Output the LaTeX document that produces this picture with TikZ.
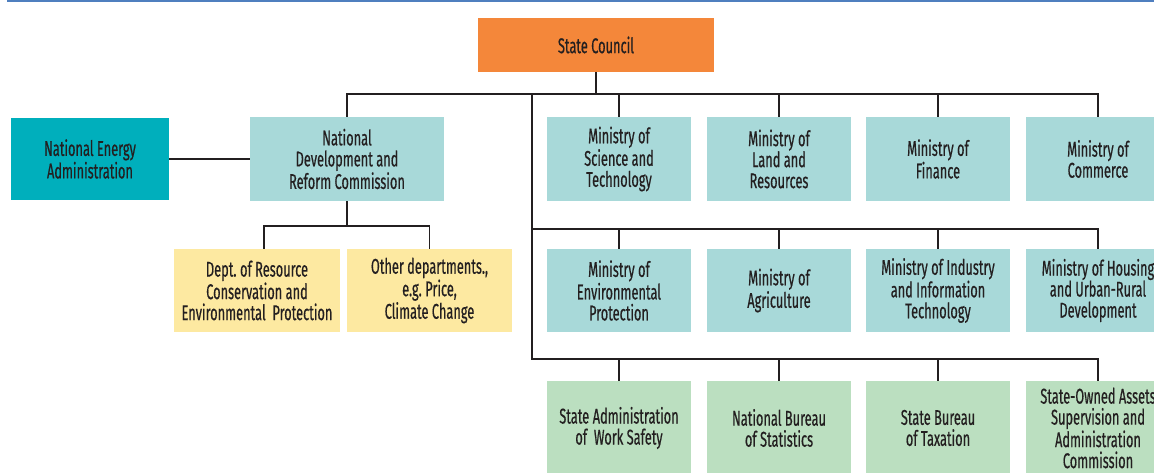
\documentclass[tikz,border=0pt]{standalone}
\usepackage{fontspec}
\setmainfont[FakeStretch=0.6,FakeBold=0.5]{Fira Sans}
\definecolor{orangeC}{HTML}{F4873A}
\definecolor{neaC}{HTML}{00AFBC}
\definecolor{tealC}{HTML}{A8D9D9}
\definecolor{yellowC}{HTML}{FDE9A1}
\definecolor{greenC}{HTML}{BBDFC0}
\definecolor{inkC}{HTML}{231F20}
\definecolor{topC}{HTML}{4F7FBF}
\newcommand{\bx}[7]{\node[#6, minimum width={(#4-#2)*0.75pt}, minimum height={(#5-#3)*0.75pt}] (#1) at ({(#2+#4)/2},{(#3+#5)/2}) {#7};}
\begin{document}
\begin{tikzpicture}[x=0.75pt,y=-0.75pt,
  box/.style={inner sep=0pt, align=center, text=inkC, font=\fontsize{16}{15.75}\selectfont},
  scbox/.style={box, fill=orangeC},
  neabox/.style={box, fill=neaC},
  minbox/.style={box, fill=tealC},
  deptbox/.style={box, fill=yellowC},
  agbox/.style={box, fill=greenC},
  link/.style={draw=inkC, line width=1.3pt}]
\clip (0,0) rectangle (1154,473);
\fill[white] (0,0) rectangle (1154,473);
\fill[topC] (7,0) rectangle (1154,2);
% boxes
\bx{sc}{478}{18}{714}{72}{scbox}{State Council}
\bx{nea}{11}{118}{169}{200}{neabox}{National Energy\\Administration}
\bx{ndrc}{250}{117}{444}{201}{minbox}{National\\Development and\\Reform Commission}
\bx{mst}{547}{117}{691}{201}{minbox}{Ministry of\\Science and\\Technology}
\bx{mlr}{707}{117}{851}{201}{minbox}{Ministry of\\Land and\\Resources}
\bx{mof}{866}{117}{1010}{201}{minbox}{Ministry of\\Finance}
\bx{moc}{1026}{117}{1170}{201}{minbox}{Ministry of\\Commerce}
\bx{dept}{174}{249}{340}{332}{deptbox}{Dept.\,of Resource\\Conservation and\\Environmental\ \ Protection}
\bx{other}{347}{249}{512}{332}{deptbox}{Other departments.,\\e.g.\,Price,\\Climate Change}
\bx{mep}{547}{249}{691}{332}{minbox}{Ministry of\\Environmental\\Protection}
\bx{moa}{707}{249}{851}{332}{minbox}{Ministry of\\Agriculture}
\bx{miit}{866}{249}{1010}{332}{minbox}{Ministry of\,Industry\\and Information\\Technology}
\bx{mohurd}{1026}{249}{1170}{332}{minbox}{Ministry of Housing\\and Urban-Rural\\Development}
\bx{saws}{547}{381}{691}{475}{agbox}{State\,Administration\\of\ \ Work Safety}
\bx{nbs}{707}{381}{851}{475}{agbox}{National Bureau\\of Statistics}
\bx{sbt}{866}{381}{1010}{475}{agbox}{State Bureau\\of Taxation}
\bx{sasac}{1026}{381}{1170}{475}{agbox}{State-Owned Assets\\Supervision and\\Administration\\Commission}
% bus coordinates
\coordinate (bus1) at (532,94);
\coordinate (bus2) at (532,229);
\coordinate (bus3) at (532,359);
\coordinate (ybus) at (347,226);
% connectors
\draw[link] (sc.south) -- (sc.south |- bus1);
\draw[link] (ndrc.north) -- (ndrc.north |- bus1) -- (moc.north |- bus1) -- (moc.north);
\draw[link] (mst.north) -- (mst.north |- bus1);
\draw[link] (mlr.north) -- (mlr.north |- bus1);
\draw[link] (mof.north) -- (mof.north |- bus1);
\draw[link] (bus1) -- (bus3) -- (sasac.north |- bus3) -- (sasac.north);
\draw[link] (bus2) -- (mohurd.north |- bus2) -- (mohurd.north);
\draw[link] (mep.north) -- (mep.north |- bus2);
\draw[link] (moa.north) -- (moa.north |- bus2);
\draw[link] (miit.north) -- (miit.north |- bus2);
\draw[link] (saws.north) -- (saws.north |- bus3);
\draw[link] (nbs.north) -- (nbs.north |- bus3);
\draw[link] (sbt.north) -- (sbt.north |- bus3);
\draw[link] (nea.east) -- (ndrc.west);
\draw[link] (ndrc.south) -- (ybus);
\draw[link] ([xshift=5.25pt]dept.north) |- (ybus) -| (other.north);
\end{tikzpicture}
\end{document}
